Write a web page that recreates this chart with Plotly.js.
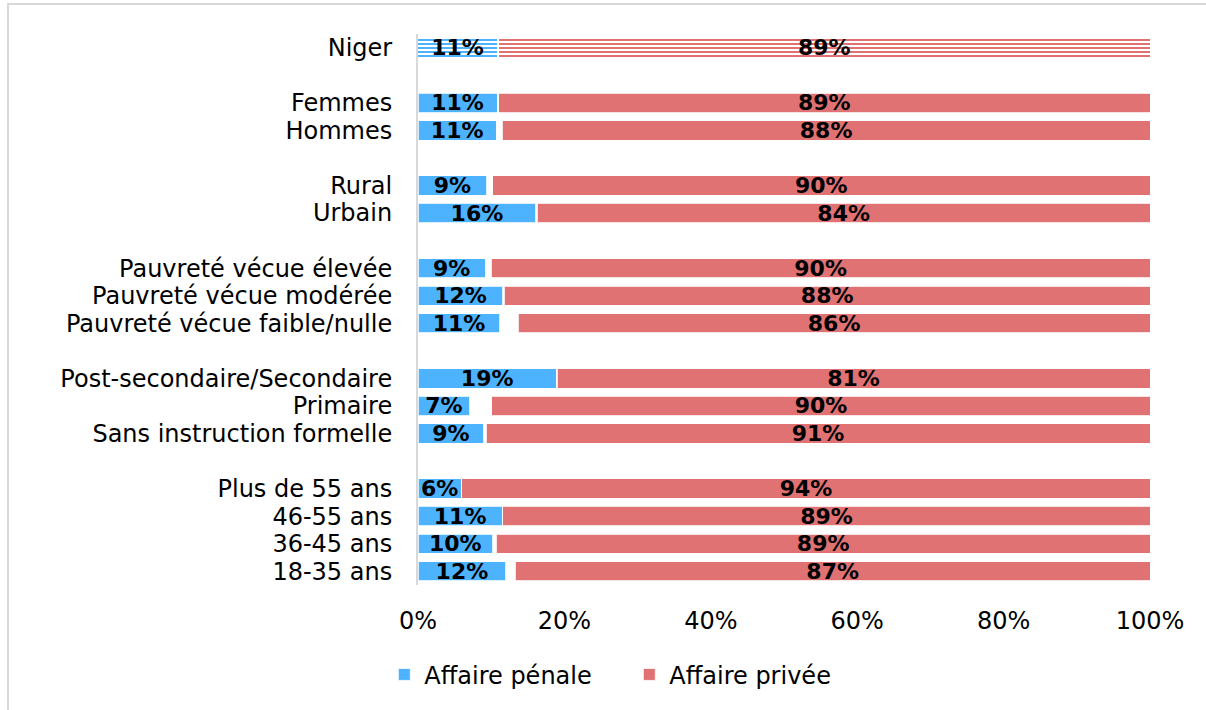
<!DOCTYPE html>
<html>
<head>
<meta charset="utf-8">
<script src="https://cdn.plot.ly/plotly-3.0.1.min.js"></script>
<style>
  html, body { margin: 0; padding: 0; background: #fff; overflow: hidden; }
  #frame { position: absolute; left: 7px; top: 3px; width: 1400px; height: 900px; border: 2px solid #d9d9d9; box-sizing: border-box; }
  #chart { position: absolute; left: 0; top: 0; width: 1206px; height: 710px; }
</style>
</head>
<body>
<div id="frame"></div>
<div id="chart"></div>
<script>
// ---- data ----
const groups = [
  ['Niger'],
  ['Femmes', 'Hommes'],
  ['Rural', 'Urbain'],
  ['Pauvreté vécue élevée', 'Pauvreté vécue modérée', 'Pauvreté vécue faible/nulle'],
  ['Post-secondaire/Secondaire', 'Primaire', 'Sans instruction formelle'],
  ['Plus de 55 ans', '46-55 ans', '36-45 ans', '18-35 ans']
];
const categories = groups.flat();
const penal  = [10.8, 10.8, 10.7, 9.4, 16.1, 9.2, 11.6, 11.2, 18.9, 7.1, 9.0, 5.9, 11.5, 10.2, 12.0];
const privee = [89.0, 89.0, 88.5, 89.8, 83.7, 90.0, 88.2, 86.3, 81.0, 89.9, 90.7, 94.0, 88.4, 89.3, 86.7];
const penalLabels  = ['11%','11%','11%','9%','16%','9%','12%','11%','19%','7%','9%','6%','11%','10%','12%'];
const priveeLabels = ['89%','89%','88%','90%','84%','90%','88%','86%','81%','90%','91%','94%','89%','89%','87%'];
const xTickVals = [0, 20, 40, 60, 80, 100];
const xTickText = ['0%', '20%', '40%', '60%', '80%', '100%'];
const seriesNames = ['Affaire pénale', 'Affaire privée'];

// ---- derived ----
const other = penal.map((p, i) => Math.max(0, 100 - p - privee[i]));
const blanks = ['\u00a0', '\u00a0\u00a0', '\u00a0\u00a0\u00a0', '\u00a0\u00a0\u00a0\u00a0', '\u00a0\u00a0\u00a0\u00a0\u00a0'];
const categoryOrder = [];
groups.forEach((g, i) => { if (i > 0) categoryOrder.push(blanks[i - 1]); categoryOrder.push(...g); });

const BLUE = '#4db3ff', RED = '#e07274';
const FONT = 'DejaVu Sans';
const TXT = 24;
const labelFont = { family: FONT, size: 22, color: '#000', weight: 'bold' };

function bar(name, y, x, color, text, opts) {
  return Object.assign({
    type: 'bar', orientation: 'h', name: name, y: y, x: x,
    text: text, textposition: text ? 'inside' : 'none', insidetextanchor: 'middle',
    textangle: 0, constraintext: 'none', textfont: labelFont,
    marker: { color: color, line: { color: 'rgba(255,255,255,0.8)', width: 1 } },
    hoverinfo: 'skip', width: 0.7, cliponaxis: false
  }, opts || {});
}

const rest = categories.slice(1);
const traces = [
  bar(seriesNames[0], rest, penal.slice(1), BLUE, penalLabels.slice(1)),
  bar('autre', rest, other.slice(1), 'rgba(0,0,0,0)', null, { showlegend: false, marker: { color: 'rgba(0,0,0,0)' } }),
  bar(seriesNames[1], rest, privee.slice(1), RED, priveeLabels.slice(1)),
  // Niger: striped
  bar(seriesNames[0], [categories[0]], [penal[0]], BLUE, [penalLabels[0]], {
    showlegend: false,
    marker: { color: BLUE, line: { width: 0 }, pattern: { shape: '-', size: 4, solidity: 0.5, fgcolor: BLUE, bgcolor: '#ffffff', fillmode: 'replace' } }
  }),
  bar('autre', [categories[0]], [other[0]], 'rgba(0,0,0,0)', null, { showlegend: false, marker: { color: 'rgba(0,0,0,0)' } }),
  bar(seriesNames[1], [categories[0]], [privee[0]], RED, [priveeLabels[0]], {
    showlegend: false,
    marker: { color: RED, line: { width: 0 }, pattern: { shape: '-', size: 4, solidity: 0.5, fgcolor: RED, bgcolor: '#ffffff', fillmode: 'replace' } }
  })
];

const layout = {
  width: 1206, height: 710,
  margin: { l: 418, r: 56, t: 34, b: 125 },
  paper_bgcolor: 'rgba(0,0,0,0)', plot_bgcolor: 'rgba(0,0,0,0)',
  barmode: 'stack', bargap: 0.3,
  font: { family: FONT, size: TXT, color: '#000' },
  showlegend: true,
  legend: {
    orientation: 'h', x: -0.046, xanchor: 'left', y: -0.163, yanchor: 'middle',
    font: { family: FONT, size: TXT, color: '#000' },
    entrywidth: 200, entrywidthmode: 'pixels', traceorder: 'normal'
  },
  xaxis: {
    range: [0, 100], tickvals: xTickVals, ticktext: xTickText,
    showgrid: false, zeroline: false, showline: false,
    ticks: 'outside', ticklen: 14, tickcolor: 'rgba(0,0,0,0)',
    tickfont: { family: FONT, size: TXT, color: '#000' }, fixedrange: true
  },
  yaxis: {
    type: 'category', categoryorder: 'array', categoryarray: categoryOrder,
    tickmode: 'array', tickvals: categories, ticktext: categories,
    range: [categoryOrder.length - 0.5, -0.5],
    showgrid: false, zeroline: false,
    showline: true, linecolor: '#d9d9d9', linewidth: 2,
    ticks: 'outside', ticklen: 19, tickcolor: 'rgba(0,0,0,0)',
    tickfont: { family: FONT, size: TXT, color: '#000' }, fixedrange: true
  }
};

Plotly.newPlot('chart', traces, layout, { displayModeBar: false, staticPlot: true });
</script>
</body>
</html>
